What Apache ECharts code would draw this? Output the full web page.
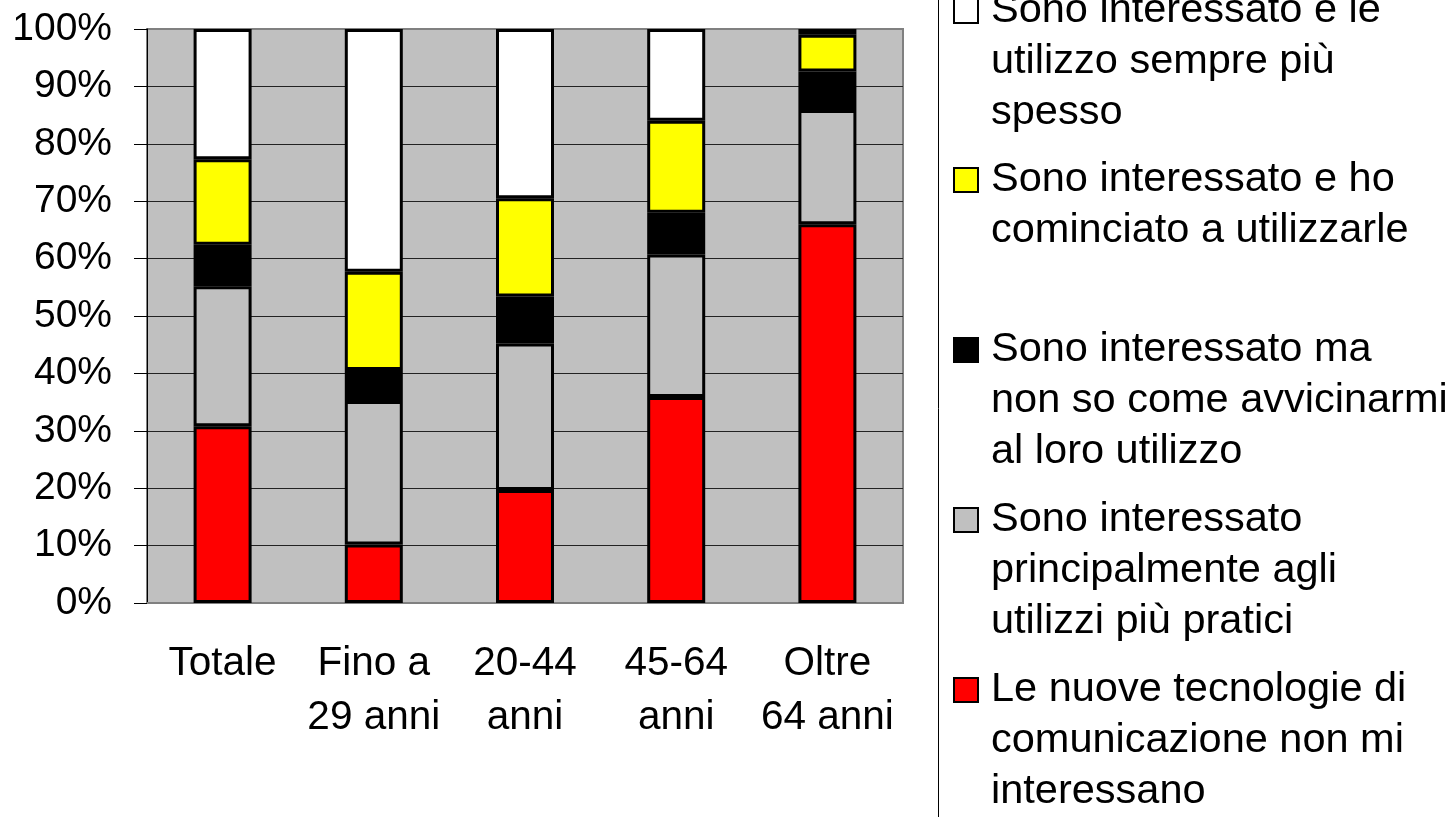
<!DOCTYPE html>
<html>
<head>
<meta charset="utf-8">
<title>Interesse per le nuove tecnologie</title>
<script src="https://cdn.jsdelivr.net/npm/echarts@6/dist/echarts.min.js"></script>
<style>
  html, body { margin: 0; padding: 0; background: #fff; }
  #chart { width: 1449px; height: 817px; }
</style>
</head>
<body>
<div id="chart"></div>
<script>
// categories on the x axis
const categories = ['Totale', 'Fino a\n29 anni', '20-44\nanni', '45-64\nanni', 'Oltre\n64 anni']

// stacked shares (%), bottom to top
const nonInteressano = [30.8, 10.2, 19.7, 35.9, 66.0]
const utilizziPratici = [24.4, 25.0, 25.5, 24.8, 19.9]
const nonSoCome = [7.2, 5.4, 8.2, 7.3, 6.7]
const cominciato = [14.9, 17.1, 17.1, 16.0, 6.4]
const sempreSpesso = [22.7, 42.3, 29.5, 16.0, 1.0]

const seriesNames = [
  'Le nuove tecnologie di comunicazione non mi interessano',
  'Sono interessato principalmente agli utilizzi più pratici',
  'Sono interessato ma non so come avvicinarmi al loro utilizzo',
  'Sono interessato e ho cominciato a utilizzarle',
  'Sono interessato e le utilizzo sempre più spesso'
]

// legend text as wrapped in the picture
const legendLabels = [
  ['Le nuove tecnologie di', 'comunicazione non mi', 'interessano'],
  ['Sono interessato', 'principalmente agli', 'utilizzi più pratici'],
  ['Sono interessato ma', 'non so come avvicinarmi', 'al loro utilizzo'],
  ['Sono interessato e ho', 'cominciato a utilizzarle', ' '],
  ['Sono interessato e le', 'utilizzo sempre più', 'spesso']
]

const colors = ['#FF0000', '#C0C0C0', '#000000', '#FFFF00', '#FFFFFF']
const seriesData = [nonInteressano, utilizziPratici, nonSoCome, cominciato, sempreSpesso]

const FONT = 'Liberation Sans, Arial, sans-serif'

// icon top of each legend entry, top to bottom (white ... red)
const legendIconTops = [-1, 168, 338, 508, 678]

const chart = echarts.init(document.getElementById('chart'))

// legend text is centred on the icon, so two blank lines in front
// put the first real line level with the marker
const legends = [4, 3, 2, 1, 0].map((idx, i) => ({
  data: [seriesNames[idx]],
  orient: 'vertical',
  left: 953,
  bottom: 817 - (legendIconTops[i] + 12 + 127.5),
  padding: 0,
  itemGap: 0,
  itemWidth: 24,
  itemHeight: 24,
  icon: 'rect',
  selectedMode: false,
  formatter: () => [' ', ' '].concat(legendLabels[idx]).join('\n'),
  textStyle: {
    fontFamily: FONT,
    fontSize: 41.5,
    lineHeight: 51,
    color: '#000',
    padding: [0, 0, 0, 8]
  }
}))

const option = {
  backgroundColor: '#fff',
  animation: false,
  textStyle: { fontFamily: FONT },
  grid: {
    left: 147,
    top: 29,
    width: 756,
    height: 574,
    show: true,
    backgroundColor: '#C0C0C0',
    borderColor: '#808080',
    borderWidth: 2,
    outerBoundsMode: 'none'
  },
  legend: legends,
  graphic: [
    {
      type: 'line',
      shape: { x1: 938.5, y1: 0, x2: 938.5, y2: 817 },
      style: { stroke: '#000', lineWidth: 1 }
    }
  ],
  xAxis: {
    type: 'category',
    data: categories,
    axisLine: { lineStyle: { color: '#808080', width: 2 } },
    axisTick: { length: 12, lineStyle: { color: '#000', width: 1 } },
    axisLabel: {
      color: '#000',
      fontFamily: FONT,
      fontSize: 40.5,
      lineHeight: 54,
      margin: 34,
      interval: 0
    }
  },
  yAxis: {
    type: 'value',
    min: 0,
    max: 100,
    interval: 10,
    axisLine: { show: true, lineStyle: { color: '#000', width: 1 } },
    axisTick: { show: true, length: 13, lineStyle: { color: '#000', width: 1 } },
    axisLabel: {
      color: '#000',
      fontFamily: FONT,
      fontSize: 39,
      margin: 35,
      formatter: '{value}%'
    },
    splitLine: {
      show: true,
      showMinLine: false,
      showMaxLine: false,
      lineStyle: { color: '#222', width: 1 }
    }
  },
  series: seriesData.map((data, i) => ({
    name: seriesNames[i],
    type: 'bar',
    stack: 'total',
    barWidth: 58,
    data: data,
    itemStyle: {
      color: colors[i],
      borderColor: '#000',
      borderWidth: 3
    }
  }))
}

chart.setOption(option)
</script>
</body>
</html>
